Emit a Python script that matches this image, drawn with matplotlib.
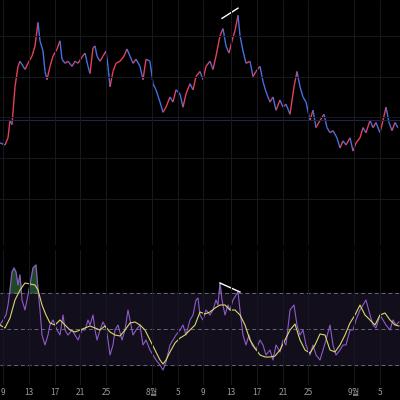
import numpy as np
import matplotlib.pyplot as plt
from matplotlib.collections import LineCollection

plt.rcParams['font.family'] = ['Noto Sans CJK KR', 'DejaVu Sans']

# day offsets from 9 Jul, price and RSI
price_x = [0,5,8,10,12,15,18,20,25,28,32,35,38,40,43,45,47,50,53,57,60,62,65,68,72,75,78,82,85,88,90,93,95,97,100,
           103,106,108,110,113,116,120,124,127,130,133,136,140,143,146,150,153,156,160,163,166,170,173,176,180,183,
           186,190,193,196,200,203,206,210,213,216,220,223,226,229,232,235,238,240,243,246,250,253,256,260,263,266,
           270,273,276,280,283,286,290,294,297,300,303,306,310,313,316,320,324,327,330,333,337,340,343,346,350,353,
           356,360,363,366,370,373,376,380,383,386,389,392,395,398]
price_y = [140,142,135,118,122,85,65,60,68,62,55,45,22,40,50,70,78,65,55,48,40,58,62,60,65,60,62,56,52,65,72,47,45,55,60,
           55,50,65,85,70,62,60,55,48,55,62,58,65,78,58,60,82,88,100,110,105,95,100,88,92,105,
           92,82,88,75,70,78,65,60,68,55,35,28,45,52,40,30,15,35,50,62,60,75,70,65,80,90,
           100,95,108,98,105,102,112,85,70,85,95,100,118,108,125,118,112,125,130,128,135,145,138,142,135,148,
           140,135,125,130,118,125,120,130,118,105,120,128,120,125]

rsi_x = [0,3,6,8,10,12,14,16,18,20,22,25,28,30,33,36,38,40,42,45,48,50,53,57,60,63,65,68,72,75,78,82,85,88,90,93,95,97,
         100,103,106,108,110,113,115,118,122,125,128,130,133,136,140,143,146,150,153,156,160,163,166,170,173,176,180,
         183,186,190,193,196,198,200,203,206,210,213,216,218,220,222,225,228,230,233,236,238,240,243,246,249,252,256,
         260,263,266,270,273,276,280,283,286,290,294,297,300,303,306,310,313,316,320,323,326,330,333,336,340,343,346,
         350,353,356,360,363,366,370,373,376,380,383,386,390,393,396,399]
rsi_y = [325,320,315,305,290,272,268,272,285,275,300,310,295,285,268,265,290,310,335,345,335,325,320,330,335,315,330,335,
         330,335,340,330,330,320,325,315,330,340,330,322,328,340,355,345,330,325,340,330,310,320,335,330,325,345,340,
         350,355,360,365,370,362,345,340,335,330,325,335,320,315,300,298,315,320,310,315,310,300,305,283,300,315,305,
         310,300,295,292,310,335,345,335,345,350,340,345,355,350,360,345,352,340,345,310,305,325,335,330,345,355,345,
         355,360,350,340,325,345,355,350,345,345,330,330,320,310,305,300,315,325,328,315,320,325,330,320,325,322]

ma_x = [0,5,10,15,20,25,30,35,38,42,46,50,55,60,65,70,75,80,85,90,95,100,105,110,115,120,125,130,135,140,145,150,155,
        160,163,166,170,175,180,185,190,195,200,205,210,215,220,225,230,235,240,245,250,255,260,265,270,275,280,285,
        290,295,300,305,310,315,320,325,330,335,340,345,350,355,360,365,370,375,380,385,390,395,399]
ma_y = [325,328,318,300,290,283,284,285,290,305,315,323,325,320,325,330,332,330,328,326,328,330,326,332,335,336,330,323,
        322,325,330,340,350,360,364,360,352,343,338,335,330,325,312,314,312,308,305,305,310,310,315,325,340,348,355,357,
        357,356,350,340,330,324,340,350,353,345,334,335,350,352,345,335,323,315,305,315,320,325,315,313,320,325,326]

tick_labels = ['9', '13', '17', '21', '25', '8월', '5', '9', '13', '17', '21', '25', '9월', '5']
tick_px = [3, 29, 55, 80, 106, 152, 178, 203, 231, 257, 283, 308, 354, 380]

to_day = lambda px: (np.array(px) - 3) / 6.45
px2price = lambda py: 240 - np.array(py)
px2rsi = lambda py: 50 + (329 - np.array(py)) / 1.8

bg = '#000000'
grid = '#18181f'
fig = plt.figure(figsize=(4, 4), dpi=100, facecolor=bg)
ax1 = fig.add_axes([0, 155/400, 1, 245/400])
ax2 = fig.add_axes([0, 15/400, 1, 135/400], sharex=ax1)
ax_t = fig.add_axes([0, 0, 1, 15/400], sharex=ax1)

px = to_day(price_x)
py = px2price(price_y)
pts = np.column_stack([px, py]).reshape(-1, 1, 2)
segs = np.concatenate([pts[:-1], pts[1:]], axis=1)
cols = ['#e2435a' if b > a else '#4a6ee0' for a, b in zip(py[:-1], py[1:])]
ax1.add_collection(LineCollection(segs, colors=cols, linewidths=1.0))
ax1.axhline(px2price(118), color='#22224e', lw=0.8)
ax1.plot(to_day([222, 238]), px2price([18, 8]), color='white', lw=1)
ax1.set_ylim(0, 240)

rx = to_day(rsi_x)
ry = px2rsi(rsi_y)
ax2.axhspan(30, 70, color='#120e1c')
for lvl in (30, 50, 70):
    ax2.axhline(lvl, color='#666677', lw=0.7, ls=(0, (4, 3)))
ax2.fill_between(rx, 70, ry, where=ry > 70, interpolate=True, color='#2a5a34', alpha=0.8)
ax2.plot(rx, ry, color='#8e5cc8', lw=0.8)
ax2.plot(to_day(ma_x), px2rsi(ma_y), color='#d8d86a', lw=0.8)
ax2.plot(to_day([220, 240]), px2rsi([283, 292]), color='white', lw=1)
ax2.set_ylim(px2rsi(385), px2rsi(250))

for ax in (ax1, ax2, ax_t):
    ax.set_facecolor(bg)
    for s in ax.spines.values():
        s.set_visible(False)
    ax.tick_params(length=0, labelleft=False, labelbottom=False)
    ax.set_yticks([])
for ax in (ax1, ax2):
    for t in to_day(tick_px):
        ax.axvline(t, color=grid, lw=0.7)
for yv in (45, 85, 125, 165, 205):
    ax1.axhline(yv, color=grid, lw=0.7)
ax1.set_xlim(to_day(0), to_day(400))
for t, lab in zip(to_day(tick_px), tick_labels):
    ax_t.text(t, 0.5, lab, color='#9a9aa0', fontsize=6, ha='center', va='center')

fig.savefig('out.png', facecolor=bg)
